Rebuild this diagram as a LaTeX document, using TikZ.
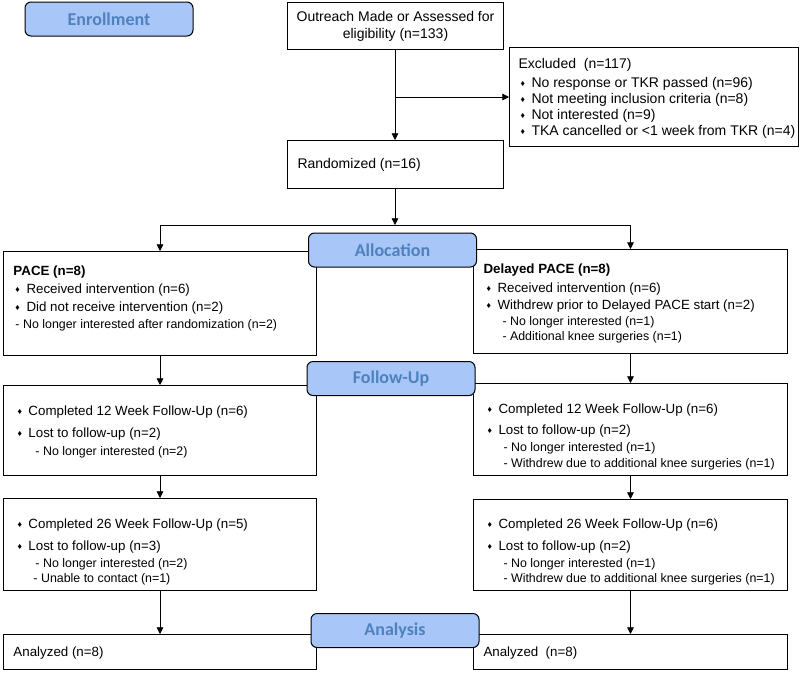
\documentclass[tikz,border=0pt]{standalone}
\usepackage{fontspec}
\setmainfont{Liberation Sans}
\newfontfamily\stagefont{Carlito}
\usepackage{tikz}
\usetikzlibrary{arrows.meta}
\definecolor{stagefill}{RGB}{168,199,248}
\definecolor{stagetext}{RGB}{79,129,189}
\newlength{\px}\setlength{\px}{0.75pt}
\tikzset{
  box/.style={draw, line width=0.75pt, inner sep=0pt, anchor=north west},
  stage/.style={draw, line width=0.75pt, rounded corners=4.5pt, fill=stagefill,
    text=stagetext, font=\stagefont\bfseries\fontsize{13.5}{14}\selectfont,
    minimum width=168\px, minimum height=34\px, inner sep=0pt},
  flow/.style={line width=0.6pt, -{Triangle[width=5pt,length=5pt]}},
}
\newcommand{\dia}{\makebox[11\px][l]{\fontsize{6.5}{6.5}\selectfont\raisebox{0.5pt}{♦}}}
\newcommand{\subfont}{\fontsize{9.3}{11}\selectfont}
% width, height, left pad, first baseline, lines (all in px)
\newcommand{\boxtext}[5]{%
  \begin{minipage}[t][#2\px][t]{#1\px}\fontsize{10}{13.5}\selectfont\raggedright
  \setlength{\leftskip}{#3\px}%
  \vspace*{\dimexpr#4\px-9.45pt\relax}\strut#5\end{minipage}}

\begin{document}
\begin{tikzpicture}[x=0.75pt,y=-0.75pt]
  \useasboundingbox (0,0) rectangle (800,672);

  % enrollment
  \node[box, minimum width=216\px, minimum height=47\px, align=center,
    font=\fontsize{10.5}{12.75}\selectfont] (outreach) at (287,2)
    {Outreach Made or Assessed for\\eligibility (n=133)};
  \node[box] (excl) at (509,47) {\boxtext{289}{99}{9}{21}{\fontsize{10.5}{13.5}\selectfont
    Excluded\ \ (n=117)\\[0.5\px]
    \hspace*{2\px}\dia No response or TKR passed (n=96)\\[-2\px]
    \hspace*{2\px}\dia Not meeting inclusion criteria (n=8)\\[-2\px]
    \hspace*{2\px}\dia Not interested (n=9)\\[-2\px]
    \hspace*{2\px}\dia TKA cancelled or <1 week from TKR (n=4)}};
  \node[box] (rand) at (287,140) {\boxtext{216}{48}{10}{28}{\fontsize{10.5}{13.5}\selectfont
    Randomized (n=16)}};

  % allocation
  \node[box] (pace) at (3,251) {\boxtext{313}{104}{10}{24}{%
    \textbf{PACE (n=8)}\\
    \hspace*{2\px}\dia Received intervention (n=6)\\
    \hspace*{2\px}\dia Did not receive intervention (n=2)\\[-1\px]
    \hspace*{2\px}{\subfont - No longer interested after randomization (n=2)}}};
  \node[box] (delayed) at (473,249) {\boxtext{314}{104}{10}{24}{%
    \textbf{Delayed PACE (n=8)}\\[1\px]
    \hspace*{3\px}\dia Received intervention (n=6)\\[-1\px]
    \hspace*{3\px}\dia Withdrew prior to Delayed PACE start (n=2)\\[-2\px]
    \hspace*{19\px}{\subfont - No longer interested (n=1)}\\[-3\px]
    \hspace*{19\px}{\subfont - Additional knee surgeries (n=1)}}};

  % follow-up
  \node[box] (fuAl) at (3,385) {\boxtext{313}{90}{14}{30}{%
    \dia Completed 12 Week Follow-Up (n=6)\\[4\px]
    \dia Lost to follow-up (n=2)\\[-0.5\px]
    \hspace*{18\px}{\subfont - No longer interested (n=2)}}};
  \node[box] (fuAr) at (473,383) {\boxtext{314}{92}{14}{30}{%
    \dia Completed 12 Week Follow-Up (n=6)\\[3\px]
    \dia Lost to follow-up (n=2)\\[-1\px]
    \hspace*{16\px}{\subfont - No longer interested (n=1)}\\[-2.5\px]
    \hspace*{16\px}{\subfont - Withdrew due to additional knee surgeries (n=1)}}};
  \node[box] (fuBl) at (3,498) {\boxtext{313}{92}{14}{30}{%
    \dia Completed 26 Week Follow-Up (n=5)\\[4\px]
    \dia Lost to follow-up (n=3)\\[-1.5\px]
    \hspace*{18\px}{\subfont - No longer interested (n=2)}\\[-3\px]
    \hspace*{16\px}{\subfont - Unable to contact (n=1)}}};
  \node[box] (fuBr) at (473,499) {\boxtext{314}{91}{14}{29}{%
    \dia Completed 26 Week Follow-Up (n=6)\\[4\px]
    \dia Lost to follow-up (n=2)\\[-1.5\px]
    \hspace*{16\px}{\subfont - No longer interested (n=1)}\\[-3\px]
    \hspace*{16\px}{\subfont - Withdrew due to additional knee surgeries (n=1)}}};

  % analysis
  \node[box] (anl) at (3,634) {\boxtext{313}{35}{10}{22}{Analyzed (n=8)}};
  \node[box] (anr) at (473,634) {\boxtext{314}{35}{10}{22}{Analyzed\ \ (n=8)}};

  % connectors
  \coordinate (trunk) at (395,97);
  \coordinate (split) at (395,225);
  \draw[flow] (outreach.south -| trunk) -- (rand.north -| trunk);
  \draw[flow] (trunk) -- (excl.west |- trunk);
  \draw[flow] (rand.south -| split) -- (split);
  \draw[flow] (split) -| (pace.north);
  \draw[flow] (split) -| (delayed.north);
  \foreach \a/\b in {pace/fuAl, fuAl/fuBl, fuBl/anl, delayed/fuAr, fuAr/fuBr, fuBr/anr}
    \draw[flow] (\a.south) -- (\b.north);

  % stage labels on top
  \foreach \x/\y/\nm/\tx in {109/19/enroll/Enrollment, 392.5/250/alloc/Allocation,
      391/378.5/fu/Follow-Up, 395/630.5/anal/Analysis}
    \node[stage] (\nm) at (\x,\y) {\tx};
\end{tikzpicture}
\end{document}
